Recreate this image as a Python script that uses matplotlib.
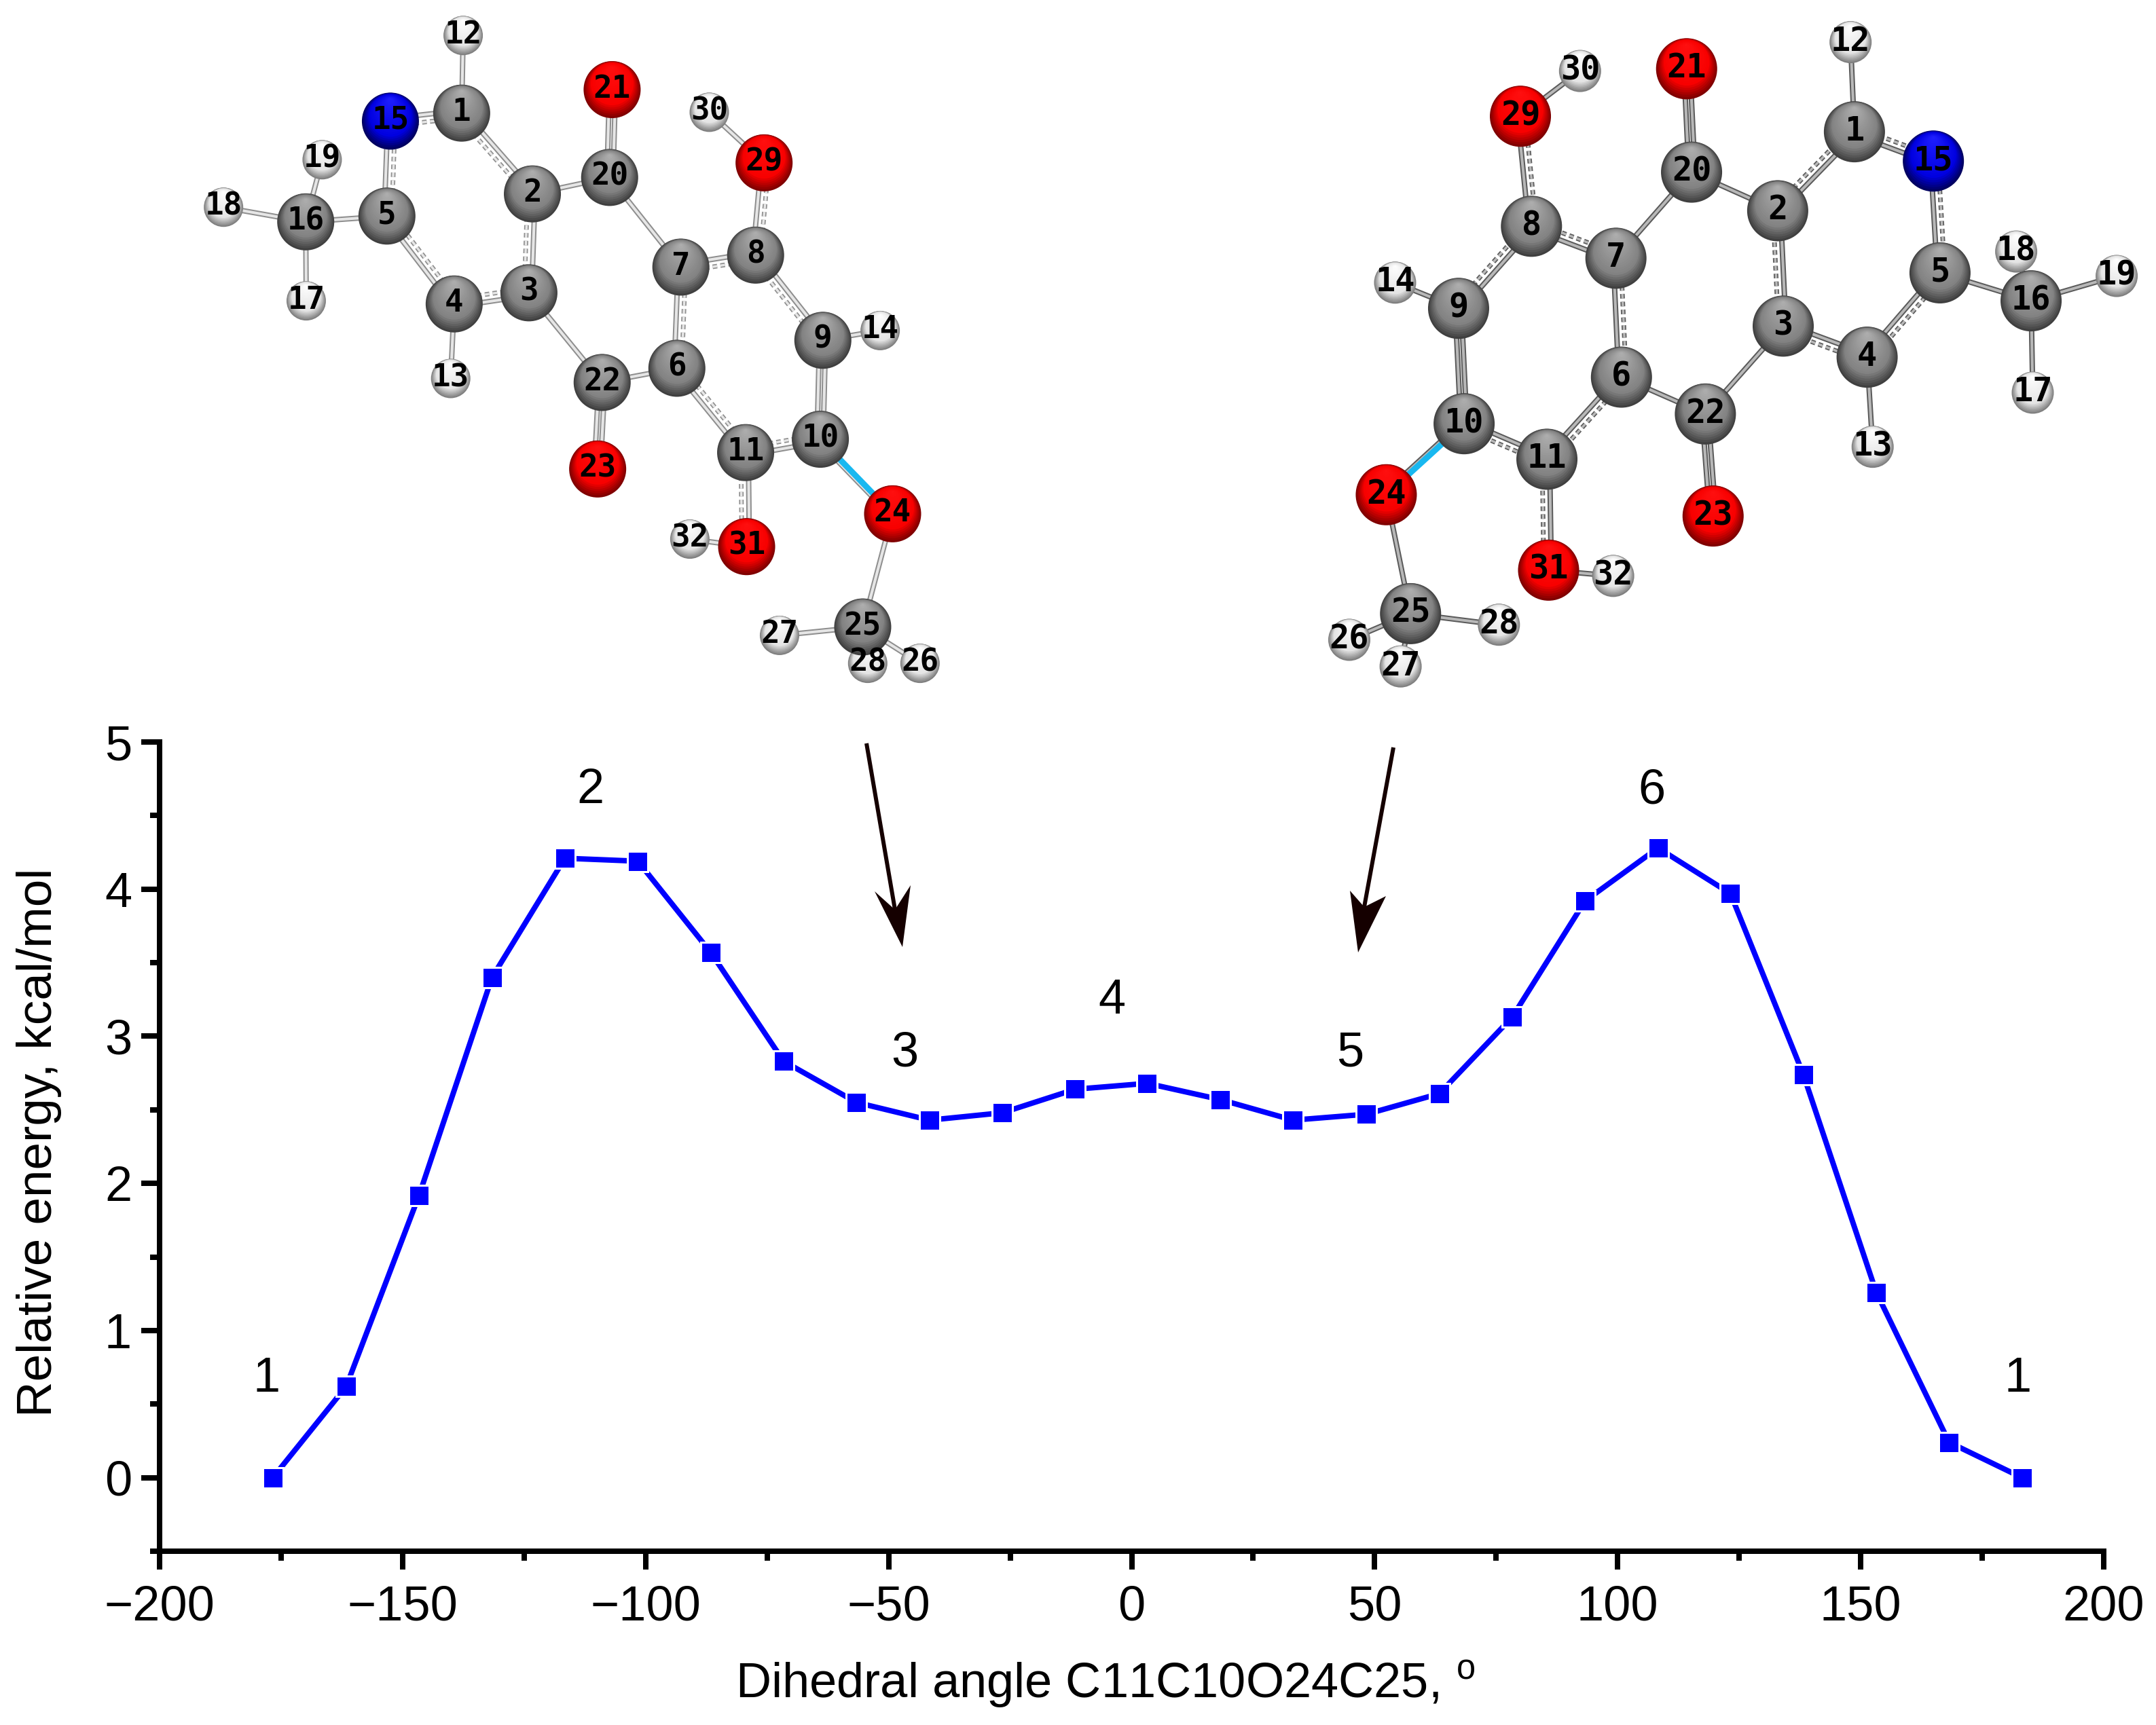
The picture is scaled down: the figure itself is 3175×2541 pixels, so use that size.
import matplotlib
matplotlib.use('Agg')
import matplotlib.pyplot as plt
from matplotlib.patches import Circle, Polygon
from matplotlib.ticker import MultipleLocator
import numpy as np

W, H = 3175, 2541
px = 0.72  # one image pixel in points at dpi 100

plt.rcParams['font.family'] = ['Liberation Sans', 'DejaVu Sans']
plt.rcParams['mathtext.fontset'] = 'custom'
plt.rcParams['mathtext.rm'] = 'Liberation Sans'

# scan data
angle = [-176.7, -161.6, -146.6, -131.6, -116.6, -101.6, -86.6, -71.6, -56.6, -41.6, -26.6, -11.6, 3.2,
         18.2, 33.2, 48.3, 63.3, 78.3, 93.3, 108.3, 123.2, 138.2, 153.2, 168.2, 183.2]
energy = [0.0, 0.62, 1.92, 3.40, 4.21, 4.19, 3.57, 2.83, 2.55, 2.43, 2.48, 2.64, 2.68,
          2.57, 2.43, 2.47, 2.61, 3.13, 3.92, 4.28, 3.97, 2.74, 1.26, 0.24, 0.0]

point_names = ['1', '2', '3', '4', '5', '6', '1']
point_x = [-178, -111.3, -46.7, -4, 45, 107, 182.3]
point_y = [0.67, 4.67, 2.88, 3.24, 2.88, 4.67, 0.67]

# atoms of the two structures, read in zoomed picture coordinates
atom_ids = list(range(1, 33))
atom_kind = ['C', 'C', 'C', 'C', 'C', 'C', 'C', 'C', 'C', 'C', 'C', 'H', 'H', 'H', 'N', 'C',
             'H', 'H', 'H', 'C', 'O', 'C', 'O', 'O', 'C', 'H', 'H', 'H', 'O', 'H', 'O', 'H']
mol1_x = [545, 687, 680, 530, 395, 977, 985, 1135, 1270, 1265, 1115, 548, 523, 1385, 402, 232,
          233, 67, 265, 842, 847, 827, 818, 1410, 1350, 1465, 1183, 1360, 1152, 1042, 1117, 1003]
mol1_y = [255, 437, 660, 685, 487, 830, 602, 575, 767, 990, 1020, 80, 853, 745, 273, 500,
          678, 467, 360, 400, 202, 862, 1057, 1158, 1413, 1495, 1432, 1495, 367, 253, 1232, 1215]
mol2_x = [1022, 883, 893, 1045, 1177, 600, 590, 437, 305, 315, 465, 1015, 1055, 190, 1165, 1342,
          1345, 1315, 1497, 727, 718, 752, 766, 174, 218, 107, 200, 378, 417, 525, 468, 585]
mol2_y = [297, 475, 735, 805, 615, 850, 582, 510, 695, 955, 1035, 95, 1007, 637, 363, 678,
          885, 567, 622, 388, 155, 933, 1163, 1115, 1383, 1442, 1502, 1408, 262, 160, 1285, 1298]

single_bonds = [(2, 20), (20, 7), (3, 22), (22, 6), (29, 30), (31, 32), (24, 25), (25, 26), (25, 27), (25, 28),
                (5, 16), (16, 17), (16, 18), (16, 19), (1, 12), (4, 13), (9, 14)]
partial_bonds = [(1, 2), (2, 3), (3, 4), (4, 5), (5, 15), (15, 1), (6, 7), (7, 8), (8, 9), (10, 11), (11, 6),
                 (8, 29), (11, 31)]
double_bonds = [(9, 10), (20, 21), (22, 23)]

arrow_lines = [((1276, 1095), (1318, 1340)), ((2052, 1101), (2009, 1336))]
arrow_heads = [[(1329, 1395), (1288, 1313), (1318, 1340), (1341, 1304)],
               [(2000, 1403), (1988, 1312), (2009, 1336), (2041, 1320)]]

shades = {'C': ('#404040', '#828282', '#b0b0b0'),
          'O': ('#800000', '#f80000', '#ff1010'),
          'N': ('#000060', '#0000e0', '#2020ff'),
          'H': ('#808080', '#e4e4e4', '#ffffff')}


def hex2rgb(c):
    return np.array(matplotlib.colors.to_rgb(c))


def ball(ax, x, y, r, kind, z):
    dark, mid, light = [hex2rgb(c) for c in shades[kind]]
    n = 24
    for i in range(n):
        t = i / n
        if t < 0.25:
            col = dark + (mid - dark) * (t / 0.25)
        else:
            col = mid + (light - mid) * ((t - 0.25) / 0.75)
        # the shrinking circles slide up, so the dark rim stays at the bottom
        ax.add_patch(Circle((x, y - 0.8 * r * t), r * (1 - t), fc=col, ec='none', zorder=z))


def tube(ax, a, b, off, width, dark, light, z, dash=False):
    a = np.array(a, float)
    b = np.array(b, float)
    d = (b - a) / np.hypot(*(b - a))
    n = np.array([-d[1], d[0]])
    p = a + n * off
    q = b + n * off
    if dash:
        ax.plot([p[0], q[0]], [p[1], q[1]], color=dark, lw=width * px, zorder=z, ls=(0, (1.0, 0.7)), solid_capstyle='butt')
        ax.plot([p[0], q[0]], [p[1], q[1]], color=light, lw=width * 0.5 * px, zorder=z, ls=(0, (2.0, 1.4)))
    else:
        ax.plot([p[0], q[0]], [p[1], q[1]], color=dark, lw=width * px, zorder=z, solid_capstyle='butt')
        ax.plot([p[0], q[0]], [p[1], q[1]], color=light, lw=width * 0.5 * px, zorder=z, solid_capstyle='butt')


def molecule(ax, xs, ys, x0, sx, sy, rc, rh, dark, light, bw, fs):
    X = x0 + np.array(xs) / sx
    Y = np.array(ys) / sy
    pos = {i: (X[i - 1], Y[i - 1]) for i in atom_ids}
    for a, b in single_bonds:
        tube(ax, pos[a], pos[b], 0, bw, dark, light, 2)
    for a, b in partial_bonds:
        tube(ax, pos[a], pos[b], -4, bw, dark, light, 2)
        tube(ax, pos[a], pos[b], 7, bw * 0.85, dark, light, 2, dash=True)
    for a, b in double_bonds:
        tube(ax, pos[a], pos[b], -4, bw, dark, light, 2)
        tube(ax, pos[a], pos[b], 5, bw, dark, light, 2)
    # the rotated bond C10-O24
    tube(ax, pos[10], pos[24], 4, bw, dark, light, 2)
    ax.plot(*zip(pos[10], pos[24]), color='#18b8f0', lw=bw * 1.1 * px, zorder=2.1)
    for i in atom_ids:
        k = atom_kind[i - 1]
        ball(ax, X[i - 1], Y[i - 1], rh if k == 'H' else rc, k, 3 if k == 'H' else 4)
    for i in atom_ids:
        ax.text(X[i - 1], Y[i - 1] - 1, str(i), family='DejaVu Sans Mono', fontsize=fs, color='black',
                ha='center', va='center', zorder=6, weight='bold')


fig = plt.figure(figsize=(W / 100, H / 100), dpi=100, facecolor='white')

left, right, top, bottom = 235, 3098, 1093, 2285
ax = fig.add_axes([left / W, 1 - bottom / H, (right - left) / W, (bottom - top) / H])
ax.plot(angle, energy, color='#0000ff', lw=8 * px, marker='s', ms=30 * px, mfc='#0000ff', mec='white',
        mew=3 * px, clip_on=False, zorder=3)
ax.set_xlim(-200, 200)
ax.set_ylim(-0.5, 5)
ax.spines['top'].set_visible(False)
ax.spines['right'].set_visible(False)
ax.spines['left'].set_linewidth(8 * px)
ax.spines['bottom'].set_linewidth(8 * px)
ax.xaxis.set_major_locator(MultipleLocator(50))
ax.xaxis.set_minor_locator(MultipleLocator(25))
ax.yaxis.set_major_locator(MultipleLocator(1))
ax.yaxis.set_minor_locator(MultipleLocator(0.5))
ax.tick_params(axis='both', which='major', length=27 * px, width=8 * px, labelsize=52)
ax.tick_params(axis='both', which='minor', length=14 * px, width=8 * px)
ax.tick_params(axis='x', which='major', pad=16)
ax.tick_params(axis='y', which='major', pad=10)
for n, xx, yy in zip(point_names, point_x, point_y):
    ax.text(xx, yy, n, fontsize=52, ha='center', va='center')

fig.text(1628 / W, 1 - 2481 / H, 'Dihedral angle C11C10O24C25, $^{\\mathrm{o}}$', fontsize=52, ha='center', va='center')
fig.text(58 / W, 1 - 1683 / H, 'Relative energy, kcal/mol', fontsize=52.5, rotation=90, ha='center', va='center')

ov = fig.add_axes([0, 0, 1, 1], facecolor='none')
ov.set_xlim(0, W)
ov.set_ylim(H, 0)
ov.axis('off')

molecule(ov, mol1_x, mol1_y, 280, 1.363, 1.53, 42, 29, '#8e8e8e', '#e6e6e6', 8, 33)
molecule(ov, mol2_x, mol2_y, 1900, 1.23, 1.53, 45, 31, '#5a5a5a', '#b8b8b8', 8, 35)

for (p, q), head in zip(arrow_lines, arrow_heads):
    ov.plot(*zip(p, q), color='#150000', lw=6 * px, zorder=5, solid_capstyle='butt')
    ov.add_patch(Polygon(head, closed=True, fc='#150000', ec='none', zorder=5))

fig.savefig('out.png', dpi=100)
